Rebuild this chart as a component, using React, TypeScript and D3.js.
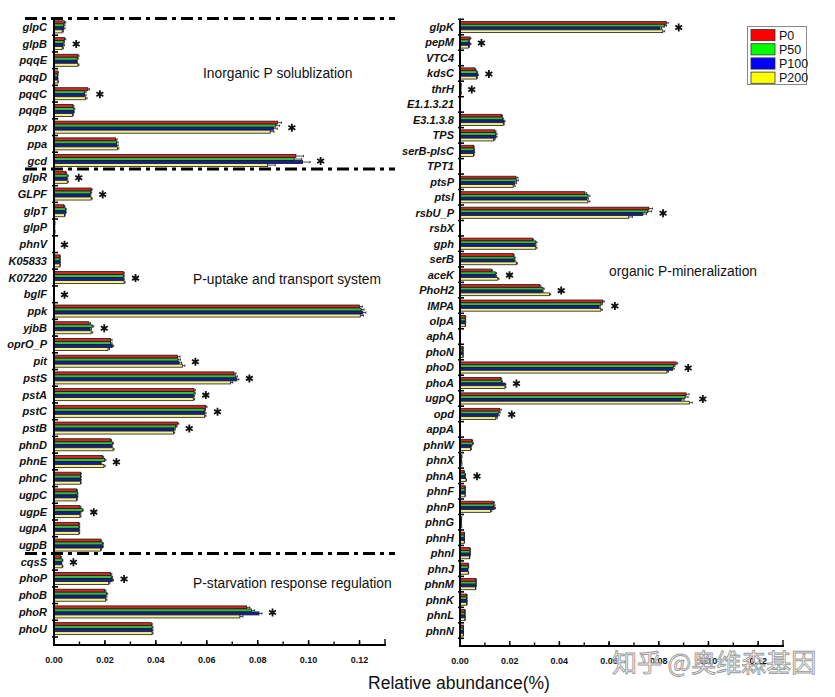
import React from 'react';
import * as d3 from 'd3';

const seriesNames = ['P0', 'P50', 'P100', 'P200'];
const seriesColors = ['#ff0000', '#00ff00', '#0000ff', '#ffff00'];
const barFills = ['#d8261c', '#2fc040', '#1020a0', '#f4f08c'];
const majorTicks = [0, 0.02, 0.04, 0.06, 0.08, 0.1, 0.12];
const minorTicks = [0, 0.01, 0.02, 0.03, 0.04, 0.05, 0.06, 0.07, 0.08, 0.09, 0.1, 0.11, 0.12, 0.13];
const xMax = 0.13;

const leftGenes = ['glpC', 'glpB', 'pqqE', 'pqqD', 'pqqC', 'pqqB', 'ppx', 'ppa', 'gcd',
  'glpR', 'GLPF', 'glpT', 'glpP', 'phnV', 'K05833', 'K07220', 'bglF', 'ppk', 'yjbB', 'oprO_P', 'pit', 'pstS', 'pstA', 'pstC', 'pstB', 'phnD', 'phnE', 'phnC', 'ugpC', 'ugpE', 'ugpA', 'ugpB',
  'cqsS', 'phoP', 'phoB', 'phoR', 'phoU'];
const leftP0 = [0.0041, 0.0041, 0.0094, 0.0015, 0.0133, 0.0074, 0.0878, 0.0242, 0.0950,
  0.0045, 0.0146, 0.0039, 0.0004, 0, 0.0023, 0.0272, 0, 0.1199, 0.0137, 0.0222, 0.0485, 0.0707, 0.0550, 0.0596, 0.0485, 0.0222, 0.0190, 0.0104, 0.0089, 0.0102, 0.0098, 0.0183,
  0.0026, 0.0222, 0.0199, 0.0757, 0.0382];
const leftP50 = [0.0038, 0.0036, 0.0091, 0.0014, 0.0120, 0.0078, 0.0871, 0.0246, 0.0943,
  0.0052, 0.0144, 0.0045, 0.0003, 0, 0.0023, 0.0272, 0, 0.1206, 0.0150, 0.0222, 0.0487, 0.0712, 0.0550, 0.0590, 0.0478, 0.0229, 0.0199, 0.0104, 0.0091, 0.0111, 0.0098, 0.0190,
  0.0032, 0.0225, 0.0206, 0.0775, 0.0385];
const leftP100 = [0.0038, 0.0036, 0.0088, 0.0014, 0.0120, 0.0076, 0.0862, 0.0246, 0.0976,
  0.0050, 0.0141, 0.0045, 0.0003, 0, 0.0023, 0.0272, 0, 0.1213, 0.0141, 0.0229, 0.0491, 0.0718, 0.0547, 0.0592, 0.0471, 0.0225, 0.0183, 0.0104, 0.0091, 0.0102, 0.0098, 0.0190,
  0.0028, 0.0229, 0.0203, 0.0805, 0.0385];
const leftP200 = [0.0032, 0.0032, 0.0094, 0.0015, 0.0124, 0.0072, 0.0849, 0.0249, 0.0839,
  0.0052, 0.0146, 0.0041, 0.0004, 0, 0.0023, 0.0275, 0, 0.1203, 0.0146, 0.0212, 0.0504, 0.0694, 0.0547, 0.0592, 0.0469, 0.0232, 0.0196, 0.0104, 0.0089, 0.0102, 0.0098, 0.0183,
  0.0032, 0.0215, 0.0203, 0.0730, 0.0385];
const leftErr = [0.0005, 0.0005, 0.0004, 0.0002, 0.0006, 0.0004, 0.0015, 0.0006, 0.0030,
  0.0004, 0.0004, 0.0003, 0, 0, 0.0002, 0.0004, 0, 0.0012, 0.0006, 0.0006, 0.0010, 0.0008, 0.0005, 0.0005, 0.0005, 0.0004, 0.0005, 0.0003, 0.0003, 0.0004, 0.0003, 0.0004,
  0.0003, 0.0005, 0.0005, 0.0012, 0.0004];
const leftStar = [0, 1, 0, 0, 1, 0, 1, 0, 1,
  1, 1, 0, 0, 1, 0, 1, 1, 0, 1, 0, 1, 1, 1, 1, 1, 0, 1, 0, 0, 1, 0, 0,
  1, 1, 0, 1, 0];
const leftSeparatorsAfter = ['gcd', 'ugpB'];
const leftGroupTitles = ['Inorganic P solublization', 'P-uptake and transport system', 'P-starvation response regulation'];

const rightGenes = ['glpK', 'pepM', 'VTC4', 'kdsC', 'thrH', 'E1.1.3.21', 'E3.1.3.8', 'TPS', 'serB-plsC', 'TPT1',
  'ptsP', 'ptsI', 'rsbU_P', 'rsbX', 'gph', 'serB', 'aceK', 'PhoH2', 'IMPA', 'olpA',
  'aphA', 'phoN', 'phoD', 'phoA', 'ugpQ', 'opd', 'appA', 'phnW', 'phnX', 'phnA',
  'phnF', 'phnP', 'phnG', 'phnH', 'phnI', 'phnJ', 'phnM', 'phnK', 'phnL', 'phnN'];
const rightP0 = [0.0830, 0.0040, 0, 0.0060, 0.0005, 0, 0.0167, 0.0140, 0.0054, 0,
  0.0225, 0.0502, 0.0760, 0, 0.0292, 0.0214, 0.0126, 0.0321, 0.0575, 0.0021,
  0, 0.0012, 0.0870, 0.0164, 0.0910, 0.0160, 0, 0.0048, 0.0008, 0.0016,
  0.0020, 0.0134, 0.0007, 0.0017, 0.0040, 0.0033, 0.0064, 0.0027, 0.0020, 0.0013];
const rightP50 = [0.0823, 0.0034, 0, 0.0067, 0.0004, 0, 0.0170, 0.0144, 0.0056, 0,
  0.0227, 0.0515, 0.0756, 0, 0.0305, 0.0218, 0.0142, 0.0334, 0.0567, 0.0021,
  0, 0.0012, 0.0859, 0.0167, 0.0906, 0.0156, 0, 0.0051, 0.0007, 0.0020,
  0.0020, 0.0136, 0.0006, 0.0017, 0.0040, 0.0033, 0.0064, 0.0027, 0.0020, 0.0013];
const rightP100 = [0.0803, 0.0040, 0, 0.0070, 0.0004, 0, 0.0177, 0.0144, 0.0056, 0,
  0.0220, 0.0509, 0.0736, 0, 0.0301, 0.0218, 0.0142, 0.0330, 0.0558, 0.0021,
  0, 0.0012, 0.0856, 0.0181, 0.0890, 0.0152, 0, 0.0044, 0.0007, 0.0020,
  0.0020, 0.0138, 0.0006, 0.0017, 0.0040, 0.0030, 0.0064, 0.0027, 0.0020, 0.0013];
const rightP200 = [0.0816, 0.0034, 0, 0.0067, 0.0005, 0, 0.0174, 0.0136, 0.0054, 0,
  0.0214, 0.0515, 0.0679, 0, 0.0305, 0.0227, 0.0152, 0.0360, 0.0567, 0.0021,
  0, 0.0012, 0.0833, 0.0181, 0.0923, 0.0144, 0, 0.0043, 0.0008, 0.0024,
  0.0020, 0.0123, 0.0007, 0.0017, 0.0038, 0.0033, 0.0062, 0.0027, 0.0020, 0.0013];
const rightErr = [0.0008, 0.0004, 0, 0.0004, 0, 0, 0.0004, 0.0005, 0.0003, 0,
  0.0008, 0.0008, 0.0015, 0, 0.0005, 0.0004, 0.0005, 0.0005, 0.0006, 0.0002,
  0, 0.0001, 0.0006, 0.0004, 0.0012, 0.0006, 0, 0.0003, 0, 0.0002,
  0.0002, 0.0005, 0, 0.0001, 0.0002, 0.0002, 0.0002, 0.0002, 0.0001, 0.0001];
const rightStar = [1, 1, 0, 1, 1, 0, 0, 0, 0, 0,
  0, 0, 1, 0, 0, 0, 1, 1, 1, 0,
  0, 0, 1, 1, 1, 1, 0, 0, 0, 1,
  0, 0, 0, 0, 0, 0, 0, 0, 0, 0];
const rightGroupTitle = 'organic P-mineralization';

const xLabel = 'Relative abundance(%)';
const watermark = '知乎 @奥维森基因';

const FONT = '"Liberation Sans", Arial, Helvetica, sans-serif';

function asteriskPath(cx: number, cy: number, r: number) {
  const p = d3.path();
  for (let k = 0; k < 3; k++) {
    const a = Math.PI / 2 + (k * Math.PI) / 3;
    p.moveTo(cx + r * Math.cos(a), cy + r * Math.sin(a));
    p.lineTo(cx - r * Math.cos(a), cy - r * Math.sin(a));
  }
  return p.toString();
}

type PanelProps = {
  genes: string[];
  series: number[][];
  err: number[];
  star: number[];
  x0: number;
  x1: number;
  yTop: number;
  yBottom: number;
  axisTop: number;
  axisY: number;
  labelRight: number;
};

function Panel({ genes, series, err, star, x0, x1, yTop, yBottom, axisTop, axisY, labelRight }: PanelProps) {
  const x = d3.scaleLinear().domain([0, xMax]).range([x0, x1]);
  const y = d3.scaleBand<string>().domain(genes).range([yTop, yBottom]).padding(0);
  const bw = y.bandwidth();
  const group = bw * 0.72;
  const barH = group / 4;
  const off = (bw - group) / 2;
  return (
    <g>
      {genes.map((g, i) => {
        const top = (y(g) as number) + off;
        return (
          <g key={g}>
            {series.map((s, k) => {
              const v = s[i];
              if (v <= 0) return null;
              const by = top + k * barH;
              const xe = x(v + err[i]);
              return (
                <g key={k}>
                  <rect x={x(0)} y={by} width={x(v) - x(0)} height={barH}
                    fill={barFills[k]} stroke="#1a1a1a" strokeWidth={0.8} />
                  {err[i] > 0 && (
                    <g stroke="#000" strokeWidth={0.7}>
                      <line x1={x(v)} x2={xe} y1={by + barH / 2} y2={by + barH / 2} />
                      <line x1={xe} x2={xe} y1={by + 0.3} y2={by + barH - 0.3} />
                    </g>
                  )}
                </g>
              );
            })}
            {star[i] === 1 && (
              <path
                d={asteriskPath(
                  x(d3.max(series, (s) => s[i] + err[i]) as number) + 10.5,
                  (y(g) as number) + bw / 2 + 0.5,
                  4
                )}
                stroke="#111" strokeWidth={1.8} fill="none" strokeLinecap="butt" />
            )}
            <text x={labelRight} y={(y(g) as number) + bw / 2} dy="0.36em" textAnchor="end"
              fontFamily={FONT} fontWeight="bold" fontStyle="italic" fontSize={11} fill="#111">
              {g}
            </text>
          </g>
        );
      })}
      {/* y axis */}
      <line x1={x0} x2={x0} y1={axisTop} y2={axisY + 1} stroke="#000" strokeWidth={2} />
      {d3.range(genes.length + 1).map((k) => {
        const ty = yTop + k * bw;
        return <line key={k} x1={x0 - 2} x2={x0 + 4} y1={ty} y2={ty} stroke="#000" strokeWidth={1.6} />;
      })}
      {/* x axis */}
      <line x1={x0 - 1} x2={x1 + 1} y1={axisY} y2={axisY} stroke="#000" strokeWidth={2} />
      {minorTicks.map((t) => (
        <line key={'m' + t} x1={x(t)} x2={x(t)} y1={axisY} y2={axisY - (t === xMax ? 6 : 3.5)}
          stroke="#000" strokeWidth={1.4} />
      ))}
      {majorTicks.map((t) => (
        <g key={'M' + t}>
          <line x1={x(t)} x2={x(t)} y1={axisY + 1} y2={axisY - 5} stroke="#000" strokeWidth={1.4} />
          <text x={x(t)} y={axisY + 18} textAnchor="middle" fontFamily={FONT} fontWeight="bold"
            fontSize={9} fill="#111">
            {d3.format('.2f')(t)}
          </text>
        </g>
      ))}
    </g>
  );
}

export default function App() {
  React.useEffect(() => {
    document.body.style.margin = '0';
  }, []);

  const L = { x0: 54, x1: 385, yTop: 18.5, yBottom: 637, axisTop: 17, axisY: 645 };
  const R = { x0: 460, x1: 783, yTop: 19.3, yBottom: 638.3, axisTop: 19, axisY: 646 };
  const ly = d3.scaleBand<string>().domain(leftGenes).range([L.yTop, L.yBottom]);
  const sepYs = [L.yTop, ...leftSeparatorsAfter.map((g) => (ly(g) as number) + ly.bandwidth())];

  return (
    <svg width={835} height={697} style={{ position: 'absolute', left: 0, top: 0, background: '#fff' }}
      xmlns="http://www.w3.org/2000/svg">
      <rect x={0} y={0} width={835} height={697} fill="#fff" />
      <Panel genes={leftGenes} series={[leftP0, leftP50, leftP100, leftP200]} err={leftErr} star={leftStar}
        {...L} labelRight={47} />
      <Panel genes={rightGenes} series={[rightP0, rightP50, rightP100, rightP200]} err={rightErr} star={rightStar}
        {...R} labelRight={454} />

      {sepYs.map((sy, i) => (
        <line key={i} x1={25} x2={395} y1={sy} y2={sy} stroke="#000" strokeWidth={3}
          strokeDasharray="12,5,4,5" />
      ))}

      <g fontFamily={FONT} fontSize={13.8} fill="#111">
        <text x={203} y={78}>{leftGroupTitles[0]}</text>
        <text x={193} y={284}>{leftGroupTitles[1]}</text>
        <text x={193} y={588}>{leftGroupTitles[2]}</text>
        <text x={609} y={276}>{rightGroupTitle}</text>
      </g>

      {/* legend */}
      <g>
        <rect x={747.5} y={26.5} width={59} height={58} fill="#fff" stroke="#888" strokeWidth={1} />
        {seriesNames.map((n, i) => (
          <g key={n}>
            <rect x={751} y={29.5 + i * 14.2} width={24} height={11.2} fill={seriesColors[i]}
              stroke="#333" strokeWidth={0.8} />
            <text x={779} y={29.5 + i * 14.2 + 10} fontFamily={FONT} fontSize={12.5} fill="#111">{n}</text>
          </g>
        ))}
      </g>

      <text x={459} y={689} textAnchor="middle" fontFamily={FONT} fontSize={17.5} fill="#111">{xLabel}</text>

      <text x={612} y={672} fontFamily='"Noto Sans CJK SC", sans-serif' fontSize={25} fill="#ffffff"
        fillOpacity={0.75} stroke="#9a9a9a" strokeWidth={0.9}>
        {watermark}
      </text>
    </svg>
  );
}
